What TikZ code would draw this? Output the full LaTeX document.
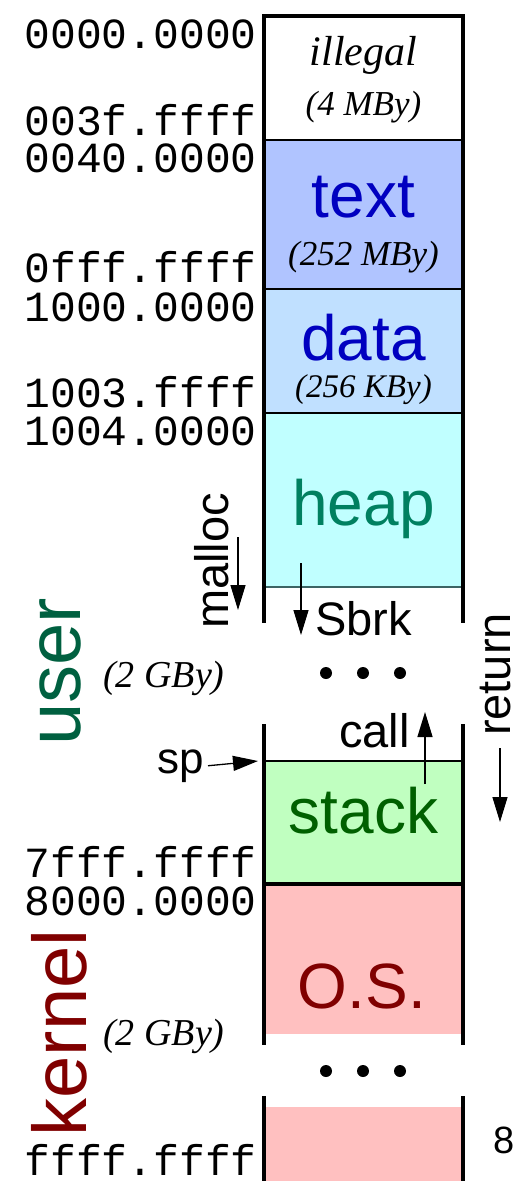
\documentclass[tikz,border=0pt]{standalone}
\usepackage{fontspec}
\setmainfont{Liberation Serif}
\setsansfont{Liberation Sans}
\setmonofont{Liberation Mono}
\usetikzlibrary{arrows.meta}
\definecolor{illfill}{RGB}{255,255,255}
\definecolor{textfill}{RGB}{176,196,255}
\definecolor{datafill}{RGB}{192,224,255}
\definecolor{heapfill}{RGB}{192,255,255}
\definecolor{stackfill}{RGB}{192,255,192}
\definecolor{osfill}{RGB}{255,192,192}
\definecolor{blueT}{RGB}{0,0,192}
\definecolor{heapT}{RGB}{0,128,96}
\definecolor{stackT}{RGB}{0,96,0}
\definecolor{osT}{RGB}{128,0,0}
\definecolor{userT}{RGB}{0,96,64}
\definecolor{heapline}{RGB}{60,100,100}
\tikzset{
  addr/.style={anchor=base east,inner sep=0pt,font=\ttfamily\fontsize{43}{43}\selectfont},
  big/.style={anchor=base,inner sep=0pt,font=\sffamily\fontsize{64}{64}\selectfont},
  med/.style={anchor=base,inner sep=0pt,font=\sffamily\fontsize{47}{47}\selectfont},
  size/.style={anchor=base,inner sep=0pt,font=\itshape\fontsize{35}{35}\selectfont},
  side/.style={line width=4pt},
  divider/.style={line width=2.2pt},
  thinline/.style={line width=1.4pt},
  arr/.style={line width=1.3pt,-{Triangle[length=25pt,width=15pt]}},
  dot/.style={circle,fill=black,inner sep=0pt,minimum size=12pt},
}
\begin{document}
\begin{tikzpicture}[x=1pt,y=-1pt]
\useasboundingbox (0,0) rectangle (522,1181);
% fills
\fill[illfill] (266,16) rectangle (461,140);
\fill[textfill] (266,140) rectangle (461,289);
\fill[datafill] (266,289) rectangle (461,413);
\fill[heapfill] (266,413) rectangle (461,587);
\fill[stackfill] (266,761) rectangle (461,884);
\fill[osfill] (266,884) rectangle (461,1034);
\fill[osfill] (266,1107) rectangle (461,1181);
% dividers
\draw[divider] (264,140) -- (462,140);
\draw[divider] (264,289) -- (462,289);
\draw[divider] (264,413) -- (462,413);
\draw[thinline,heapline] (264,587) -- (462,587);
\draw[thinline] (264,761) -- (462,761);
\draw[side] (262,884) -- (464.5,884);
% sides
\draw[side] (262,16) -- (464.5,16);
\draw[side] (264,14) -- (264,623);
\draw[side] (462.5,14) -- (462.5,623);
\draw[side] (264,724) -- (264,1045);
\draw[side] (462.5,724) -- (462.5,1045);
\draw[side] (264,1096) -- (264,1181);
\draw[side] (462.5,1096) -- (462.5,1181);
% addresses
\node[addr] (a1) at (257,48) {0000.0000};
\node[addr] (a2) at (257,135) {003f.ffff};
\node[addr] (a3) at (257,172) {0040.0000};
\node[addr] (a4) at (257,282) {0fff.ffff};
\node[addr] (a5) at (257,321) {1000.0000};
\node[addr] (a6) at (257,407) {1003.ffff};
\node[addr] (a7) at (257,445) {1004.0000};
\node[addr] (a8) at (257,877) {7fff.ffff};
\node[addr] (a9) at (257,915) {8000.0000};
\node[addr] (a10) at (257,1175) {ffff.ffff};
% segment labels
\node[anchor=base,inner sep=0pt,font=\itshape\fontsize{42}{42}\selectfont] (ill) at (363.5,65) {illegal};
\node[size] (illsz) at (363.5,115) {(4 MBy)};
\node[big,text=blueT] (txt) at (363.5,217) {text};
\node[size] (txtsz) at (363.5,265) {(252 MBy)};
\node[big,text=blueT] (dat) at (363.5,360) {data};
\node[size,font=\itshape\fontsize{33}{33}\selectfont] (datsz) at (363.5,397) {(256 KBy)};
\node[big,text=heapT] (heap) at (363.5,525) {heap};
\node[med,anchor=base west] (sbrk) at (315,635) {Sbrk};
\node[med,anchor=base east] (call) at (410,747) {call};
\node[med,anchor=base east,font=\sffamily\fontsize{44}{44}\selectfont] (sp) at (204,773) {sp};
\node[big,text=stackT] (stack) at (363.5,833) {stack};
\node[big,text=osT] (os) at (362,1008) {O.S.};
\node[med,rotate=90] (malloc) at (228,561) {malloc};
\node[med,rotate=90] (ret) at (510,674.5) {return};
\node[anchor=base,inner sep=0pt,rotate=90,font=\sffamily\fontsize{76}{76}\selectfont,text=userT] (user) at (80,672) {user};
\node[anchor=base,inner sep=0pt,rotate=90,font=\sffamily\fontsize{76}{76}\selectfont,text=osT] (kernel) at (86,1033) {kernel};
\node[anchor=base west,inner sep=0pt,font=\itshape\fontsize{38}{38}\selectfont] (usz) at (103,687) {(2 GBy)};
\node[anchor=base west,inner sep=0pt,font=\itshape\fontsize{38}{38}\selectfont] (ksz) at (103,1045) {(2 GBy)};
\node[anchor=base west,inner sep=0pt,font=\sffamily\fontsize{38}{38}\selectfont] (pg) at (493,1153) {8};
% dots
\node[dot] (d1) at (326,673) {};
\node[dot] (d2) at (363,673) {};
\node[dot] (d3) at (400,673) {};
\node[dot] (d4) at (326,1071) {};
\node[dot] (d5) at (363,1071) {};
\node[dot] (d6) at (400,1071) {};
% arrows
\coordinate (mA) at (238,537);
\coordinate (mB) at (238,610);
\draw[arr] (mA) -- (mB);
\coordinate (sA) at (301,563);
\coordinate (sB) at (301,635);
\draw[arr] (sA) -- (sB);
\coordinate (cA) at (425,784);
\coordinate (cB) at (425,712);
\draw[arr] (cA) -- (cB);
\coordinate (pB) at (258,761);
\draw[arr] (sp.east) ++(4,0) coordinate (pA) -- (pB);
\coordinate (rA) at (500,748);
\coordinate (rB) at (500,822);
\draw[arr] (rA) -- (rB);
\end{tikzpicture}
\end{document}
